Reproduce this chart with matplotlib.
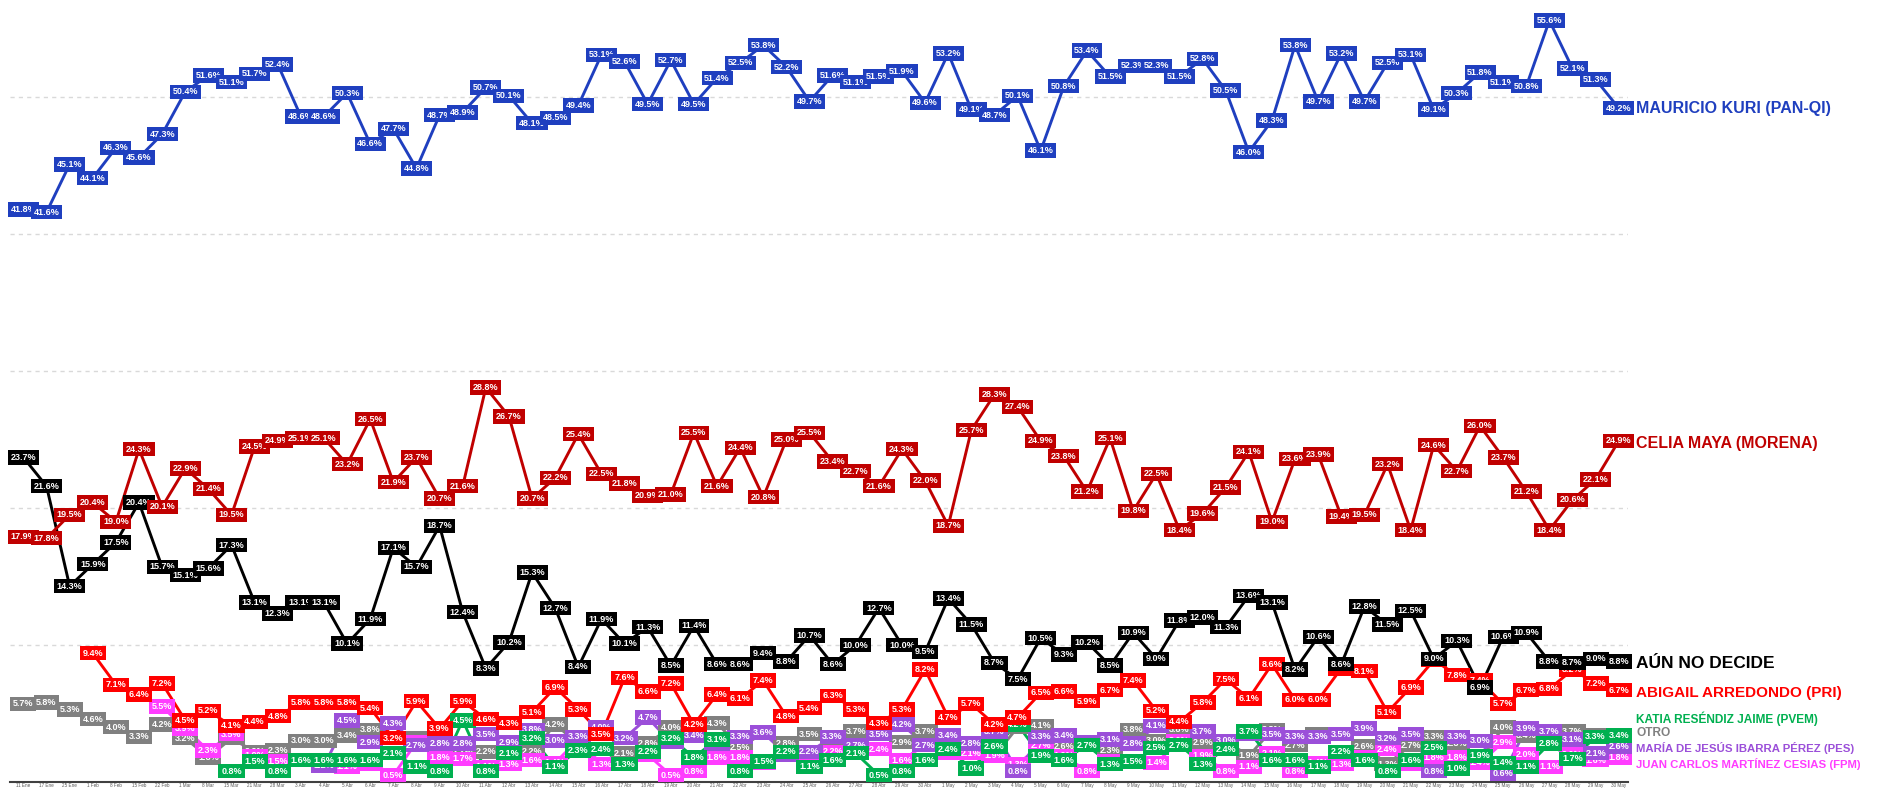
import numpy as np
import matplotlib
matplotlib.use('Agg')
import matplotlib.pyplot as plt

nan = np.nan

# fechas de las encuestas
dates = ['11 Ene', '17 Ene', '25 Ene', '1 Feb', '8 Feb', '15 Feb', '22 Feb',
         '1 Mar', '8 Mar', '15 Mar', '21 Mar', '28 Mar']
dates += [f'{d} Abr' for d in range(3, 31)]
dates += [f'{d} May' for d in range(1, 31)]

kuri = [41.8, 41.6, 45.1, 44.1, 46.3, 45.6, 47.3, 50.4, 51.6, 51.1, 51.7, 52.4, 48.6, 48.6,
        50.3, 46.6, 47.7, 44.8, 48.7, 48.9, 50.7, 50.1, 48.1, 48.5, 49.4, 53.1, 52.6, 49.5,
        52.7, 49.5, 51.4, 52.5, 53.8, 52.2, 49.7, 51.6, 51.1, 51.5, 51.9, 49.6, 53.2, 49.1,
        48.7, 50.1, 46.1, 50.8, 53.4, 51.5, 52.3, 52.3, 51.5, 52.8, 50.5, 46.0, 48.3, 53.8,
        49.7, 53.2, 49.7, 52.5, 53.1, 49.1, 50.3, 51.8, 51.1, 50.8, 55.6, 52.1, 51.3, 49.2]

maya = [17.9, 17.8, 19.5, 20.4, 19.0, 24.3, 20.1, 22.9, 21.4, 19.5, 24.5, 24.9, 25.1, 25.1,
        23.2, 26.5, 21.9, 23.7, 20.7, 21.6, 28.8, 26.7, 20.7, 22.2, 25.4, 22.5, 21.8, 20.9,
        21.0, 25.5, 21.6, 24.4, 20.8, 25.0, 25.5, 23.4, 22.7, 21.6, 24.3, 22.0, 18.7, 25.7,
        28.3, 27.4, 24.9, 23.8, 21.2, 25.1, 19.8, 22.5, 18.4, 19.6, 21.5, 24.1, 19.0, 23.6,
        23.9, 19.4, 19.5, 23.2, 18.4, 24.6, 22.7, 26.0, 23.7, 21.2, 18.4, 20.6, 22.1, 24.9]

no_decide = [23.7, 21.6, 14.3, 15.9, 17.5, 20.4, 15.7, 15.1, 15.6, 17.3, 13.1, 12.3, 13.1, 13.1,
             10.1, 11.9, 17.1, 15.7, 18.7, 12.4, 8.3, 10.2, 15.3, 12.7, 8.4, 11.9, 10.1, 11.3,
             8.5, 11.4, 8.6, 8.6, 9.4, 8.8, 10.7, 8.6, 10.0, 12.7, 10.0, 9.5, 13.4, 11.5,
             8.7, 7.5, 10.5, 9.3, 10.2, 8.5, 10.9, 9.0, 11.8, 12.0, 11.3, 13.6, 13.1, 8.2,
             10.6, 8.6, 12.8, 11.5, 12.5, 9.0, 10.3, 6.9, 10.6, 10.9, 8.8, 8.7, 9.0, 8.8]

pri = [nan, nan, nan, 9.4, 7.1, 6.4, 7.2, 4.5, 5.2, 4.1, 4.4, 4.8, 5.8, 5.8,
       5.8, 5.4, 3.2, 5.9, 3.9, 5.9, 4.6, 4.3, 5.1, 6.9, 5.3, 3.5, 7.6, 6.6,
       7.2, 4.2, 6.4, 6.1, 7.4, 4.8, 5.4, 6.3, 5.3, 4.3, 5.3, 8.2, 4.7, 5.7,
       4.2, 4.7, 6.5, 6.6, 5.9, 6.7, 7.4, 5.2, 4.4, 5.8, 7.5, 6.1, 8.6, 6.0,
       6.0, 8.3, 8.1, 5.1, 6.9, 8.9, 7.8, 7.4, 5.7, 6.7, 6.8, 8.2, 7.2, 6.7]

pvem = [nan, nan, nan, nan, nan, nan, nan, nan, nan, 0.8, 1.5, 0.8, 1.6, 1.6,
        1.6, 1.6, 2.1, 1.1, 0.8, 4.5, 0.8, 2.1, 3.2, 1.1, 2.3, 2.4, 1.3, 2.2,
        3.2, 1.8, 3.1, 0.8, 1.5, 2.2, 1.1, 1.6, 2.1, 0.5, 0.8, 1.6, 2.4, 1.0,
        2.6, 4.2, 1.9, 1.6, 2.7, 1.3, 1.5, 2.5, 2.7, 1.3, 2.4, 3.7, 1.6, 1.6,
        1.1, 2.2, 1.6, 0.8, 1.6, 2.5, 1.0, 1.9, 1.4, 1.1, 2.8, 1.7, 3.3, 3.4]

otro = [5.7, 5.8, 5.3, 4.6, 4.0, 3.3, 4.2, 3.2, 1.8, 3.2, 2.2, 2.3, 3.0, 3.0,
        3.4, 3.8, 3.2, 3.2, 2.6, 2.2, 2.2, 2.4, 2.2, 4.2, 2.8, 1.3, 2.1, 2.8,
        4.0, 3.4, 4.3, 2.5, 3.6, 2.8, 3.5, 3.0, 3.7, 3.5, 2.9, 3.7, 2.1, 2.1,
        1.9, 4.0, 4.1, 2.6, 2.9, 2.3, 3.8, 3.0, 3.8, 2.9, 3.0, 1.9, 3.8, 2.7,
        3.5, 3.5, 2.6, 1.3, 2.7, 3.3, 2.8, 1.6, 4.0, 3.4, 2.8, 3.7, 3.4, 2.6]

pes = [nan, nan, nan, nan, nan, nan, nan, nan, nan, nan, nan, nan, nan, 1.2,
       4.5, 2.9, 4.3, 2.7, 2.8, 2.8, 3.5, 2.9, 3.8, 3.0, 3.3, 4.0, 3.2, 4.7,
       2.9, 3.4, 2.8, 3.3, 3.6, 2.0, 2.2, 3.3, 2.7, 3.5, 4.2, 2.7, 3.4, 2.8,
       3.7, 0.8, 3.3, 3.4, 2.9, 3.1, 2.8, 4.1, 4.4, 3.7, 3.0, 3.5, 3.5, 3.3,
       3.3, 3.5, 3.9, 3.2, 3.5, 0.8, 3.3, 3.0, 0.6, 3.9, 3.7, 3.1, 2.1, 2.6]

fpm = [nan, nan, nan, nan, nan, nan, 5.5, 3.9, 2.3, 3.5, 1.9, 1.5, 1.6, 1.6,
       1.1, 1.3, 0.5, 2.9, 1.8, 1.7, 1.1, 1.3, 1.6, 1.4, 3.1, 1.3, 1.3, 2.0,
       0.5, 0.8, 1.8, 1.8, 1.4, 2.2, 1.9, 2.2, 2.4, 2.4, 1.6, 2.7, 2.1, 2.1,
       1.9, 1.3, 2.7, 1.9, 0.8, 1.5, 1.5, 1.4, 3.0, 1.9, 0.8, 1.1, 2.1, 0.8,
       1.4, 1.3, 1.8, 2.4, 1.3, 1.8, 1.8, 1.4, 2.9, 2.0, 1.1, 2.0, 1.6, 1.8]

# (datos, color, nombre, posicion y de la etiqueta, tamaño)
series = [
    (otro, '#808080', 'OTRO', 3.55, 8.6),
    (fpm, '#FF3CFF', 'JUAN CARLOS MARTÍNEZ CESIAS (FPM)', 1.35, 8.2),
    (pes, '#9B4FD9', 'MARÍA DE JESÚS IBARRA PÉREZ (PES)', 2.45, 8.2),
    (pvem, '#00B050', 'KATIA RESÉNDIZ JAIME (PVEM)', 4.65, 8.6),
    (pri, '#FF0000', 'ABIGAIL ARREDONDO (PRI)', 6.5, 11),
    (no_decide, '#000000', 'AÚN NO DECIDE', 8.65, 12.5),
    (maya, '#C00000', 'CELIA MAYA (MORENA)', 24.7, 11.5),
    (kuri, '#1F3FBF', 'MAURICIO KURI (PAN-QI)', 49.2, 11.5),
]

plt.rcParams['font.family'] = ['Liberation Sans', 'DejaVu Sans']

fig = plt.figure(figsize=(18.95, 7.91), dpi=100)
ax = fig.add_axes([10 / 1895, 9 / 791, 1618 / 1895, 782 / 791])

x = np.arange(len(dates))

for yv in [10, 20, 30, 40, 50]:
    ax.axhline(yv, color='#D9D9D9', lw=1, ls=(0, (3, 3)), zorder=0)

for data, color, name, ylab, fs in series:
    ax.plot(x, data, color=color, lw=2.1, zorder=2)

for k, (data, color, name, ylab, fs) in enumerate(series):
    for i, v in enumerate(data):
        if np.isnan(v):
            continue
        ax.text(x[i], v, f'{v:.1f}%', ha='center', va='center', fontsize=6.5,
                color='white', fontweight='bold', zorder=3 + k,
                bbox=dict(boxstyle='square,pad=0.3', fc=color, ec='none'))
    ax.text(len(dates) - 1 + 0.75, ylab, name, color=color, fontsize=fs,
            fontweight='bold', ha='left', va='center', clip_on=False)

ax.set_xlim(-0.58, 69.4)
ax.set_ylim(0, 57.1)
ax.set_xticks(x)
ax.set_xticklabels(dates, fontsize=3.3, color='#595959')
ax.tick_params(axis='x', length=0, pad=1)
ax.set_yticks([])
for s in ['top', 'right', 'left']:
    ax.spines[s].set_visible(False)
ax.spines['bottom'].set_color('#404040')
ax.spines['bottom'].set_linewidth(1.5)

fig.savefig('out.png', dpi=100)
